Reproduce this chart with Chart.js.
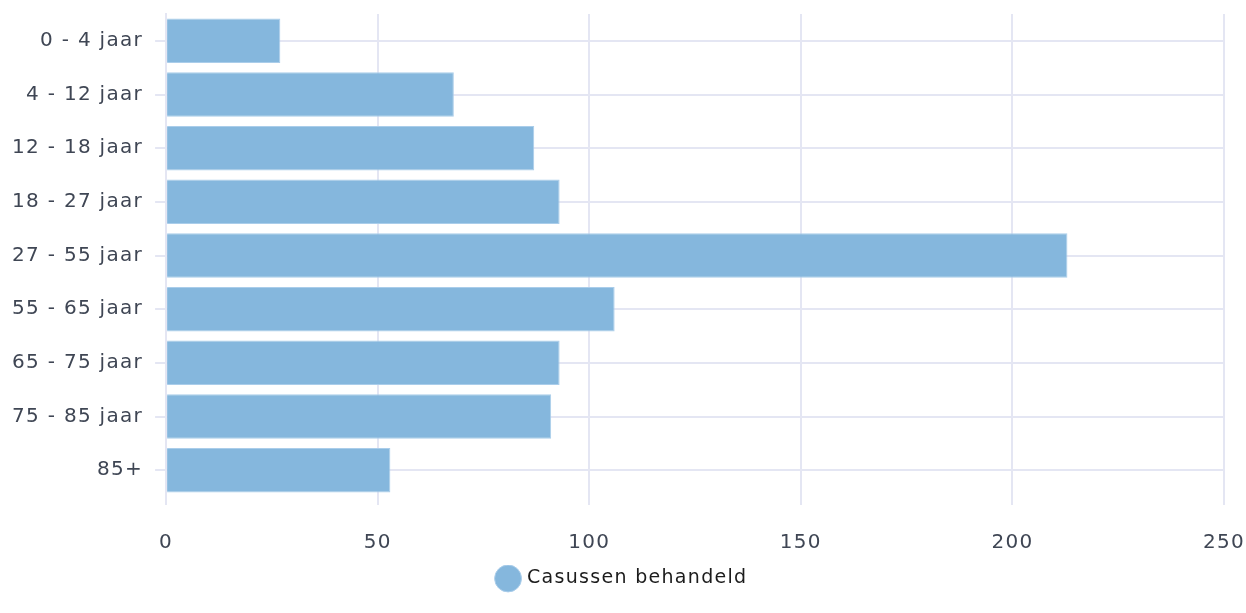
<!DOCTYPE html>
<html>
<head>
<meta charset="utf-8">
<script src="https://cdn.jsdelivr.net/npm/chart.js@4"></script>
<style>
  html, body { margin: 0; padding: 0; background: #fff; }
  #wrap { width: 1246px; height: 613px; }
</style>
</head>
<body>
<div id="wrap"><canvas id="chart"></canvas></div>
<script>
// Age groups and treated cases
var categories = ['0 - 4 jaar', '4 - 12 jaar', '12 - 18 jaar', '18 - 27 jaar', '27 - 55 jaar',
    '55 - 65 jaar', '65 - 75 jaar', '75 - 85 jaar', '85+'];
var casesTreated = [27, 68, 87, 93, 213, 106, 93, 91, 53];
var xTicks = [0, 50, 100, 150, 200, 250];

var seriesLabel = 'Casussen behandeld';
var gridColor = '#e4e6f3';
var fontFamily = '"DejaVu Sans", sans-serif';

// spacing of letters like the original font
var letterSpacingPlugin = {
    id: 'letterSpacing',
    beforeLayout: function (chart) { chart.ctx.letterSpacing = '1.3px'; },
    beforeDraw: function (chart) { chart.ctx.letterSpacing = '1.3px'; }
};

new Chart(document.getElementById('chart'), {
    type: 'bar',
    data: {
        labels: categories,
        datasets: [{
            label: seriesLabel,
            data: casesTreated,
            backgroundColor: '#85b7dd',
            borderColor: '#aacdea',
            borderWidth: 1,
            categoryPercentage: 0.83,
            barPercentage: 1
        }]
    },
    options: {
        indexAxis: 'y',
        responsive: true,
        maintainAspectRatio: false,
        animation: false,
        layout: { padding: { top: 14, right: 0, left: 0, bottom: 15 } },
        scales: {
            x: {
                min: 0,
                max: 250,
                afterBuildTicks: function (axis) {
                    axis.ticks = xTicks.map(function (v) { return { value: v }; });
                },
                afterFit: function (axis) {
                    // pull the legend closer and keep room only for half of "250"
                    axis.height -= 16;
                    axis.paddingLeft = 0;
                    axis.paddingRight = 22;
                },
                grid: { color: gridColor, lineWidth: 2, tickLength: 8, drawTicks: true },
                border: { display: false },
                ticks: {
                    color: '#3f4654',
                    padding: 26,
                    font: { family: fontFamily, size: 20 }
                }
            },
            y: {
                afterFit: function (axis) {
                    axis.paddingTop = 0;
                    axis.paddingBottom = 0;
                },
                grid: { color: gridColor, lineWidth: 2, offset: false, tickLength: 11 },
                border: { display: true, color: gridColor, width: 2 },
                ticks: {
                    color: '#3f4654',
                    padding: 12,
                    font: { family: fontFamily, size: 20 }
                }
            }
        },
        plugins: {
            legend: {
                position: 'bottom',
                labels: {
                    usePointStyle: true,
                    pointStyle: 'circle',
                    boxWidth: 19,
                    boxHeight: 19,
                    padding: 4,
                    color: '#1c1c1c',
                    font: { family: fontFamily, size: 19 }
                }
            },
            tooltip: { enabled: false }
        }
    },
    plugins: [letterSpacingPlugin]
});
</script>
</body>
</html>
